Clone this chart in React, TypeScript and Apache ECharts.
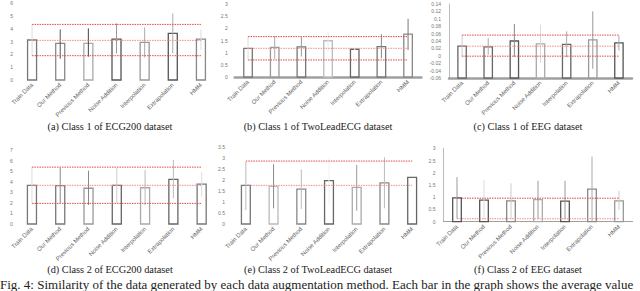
import React, { useEffect, useRef } from "react";
import * as echarts from "echarts";

const categories = ["Train Data", "Our Method", "Previous Method", "Noise Addition", "Interpolation", "Extrapolation", "HMM"];

// Panel (a) Class 1 of ECG200
const meansA = [3.13, 2.87, 2.87, 3.2, 2.94, 3.65, 3.2];
const lowA = [1.9, 1.67, 1.82, 2.08, 1.77, 2.08, 2.34];
const highA = [4.35, 3.96, 4.04, 4.43, 4.11, 5.2, 3.96];
const refA = [4.35, 3.1, 1.9];
const yRangeA = [0, 6, 1];

// Panel (b) Class 1 of TwoLeadECG
const meansB = [1.18, 1.22, 1.24, 1.49, 1.14, 1.25, 1.76];
const lowB = [0.7, 0.75, 0.84, 1.04, 1.1, 0.77, 1.11];
const highB = [1.66, 1.69, 1.65, 1.89, 1.2, 1.76, 2.39];
const refB = [1.66, 1.18, 0.7];
const yRangeB = [0, 3, 0.5];

// Panel (c) Class 1 of EEG
const meansC = [0.026, 0.024, 0.04, 0.032, 0.031, 0.043, 0.035];
const lowC = [-0.002, 0.003, -0.003, -0.019, -0.004, -0.035, 0.014];
const highC = [0.056, 0.048, 0.086, 0.084, 0.066, 0.12, 0.055];
const refC = [0.056, 0.026, -0.001];
const yRangeC = [-0.06, 0.14, 0.02];

// Panel (d) Class 2 of ECG200
const meansD = [3.66, 3.63, 3.38, 3.66, 3.43, 4.23, 3.78];
const lowD = [1.95, 1.96, 1.8, 2.0, 1.8, 2.43, 2.58];
const highD = [5.38, 5.33, 5.04, 5.27, 5.1, 6.05, 4.89];
const refD = [5.38, 3.66, 1.95];
const yRangeD = [0, 7, 1];

// Panel (e) Class 2 of TwoLeadECG
const meansE = [1.75, 1.7, 1.58, 1.96, 1.66, 1.86, 2.11];
const lowE = [0.63, 0.71, 0.68, 0.9, 0.6, 0.71, 2.11];
const highE = [2.82, 2.71, 2.47, 3.0, 2.67, 3.02, 2.11];
const refE = [2.85, 1.75];
const yRangeE = [0, 3.5, 0.5];

// Panel (f) Class 2 of EEG
const meansF = [0.97, 0.88, 0.85, 0.9, 0.84, 1.33, 0.85];
const lowF = [0.12, 0.1, 0.1, 0.12, 0.1, 0.0, 0.48];
const highF = [1.82, 1.71, 1.57, 1.67, 1.67, 2.66, 1.26];
const refF = [0.96, 0.12];
const yRangeF = [0, 3, 0.5];

const subCaptions = [
  "(a) Class 1 of ECG200 dataset",
  "(b) Class 1 of TwoLeadECG dataset",
  "(c) Class 1 of EEG dataset",
  "(d) Class 2 of ECG200 dataset",
  "(e) Class 2 of TwoLeadECG dataset",
  "(f) Class 2 of EEG dataset",
];
const figCaption =
  "Fig. 4: Similarity of the data generated by each data augmentation method. Each bar in the graph shows the average value";

// layout / style (not data)
const panelLayout = [
  { left: 18, top: 3.3, width: 197, height: 76.7, baseLine: 0, yLine: false, labelMargin: 5 },
  { left: 234.7, top: 4, width: 186.7, height: 73, baseLine: 2.5, yLine: false, labelMargin: 7 },
  { left: 449, top: 4, width: 183, height: 74, baseLine: 2.5, yLine: true, labelMargin: 8 },
  { left: 17.8, top: 150, width: 198, height: 74, baseLine: 0, yLine: false, labelMargin: 5 },
  { left: 232, top: 146.7, width: 194, height: 77.3, baseLine: 0, yLine: false, labelMargin: 7 },
  { left: 443.5, top: 148.3, width: 189, height: 73.4, baseLine: 1.2, yLine: true, labelMargin: 8 },
];
const barColors = [
  ["#777", "#888", "#aaa", "#555", "#999", "#555", "#888"],
  ["#777", "#999", "#777", "#bbb", "#666", "#777", "#888"],
  ["#666", "#666", "#555", "#aaa", "#666", "#999", "#555"],
  ["#777", "#777", "#999", "#666", "#aaa", "#666", "#777"],
  ["#777", "#bbb", "#888", "#666", "#aaa", "#888", "#666"],
  ["#555", "#555", "#888", "#aaa", "#555", "#888", "#999"],
];
const errColors = [
  ["#ddd", "#555", "#444", "#999", "#aaa", "#aaa", "#ddd"],
  ["#ddd", "#aaa", "#999", "#eee", "#fff", "#888", "#777"],
  ["#ccc", "#aaa", "#888", "#ddd", "#aaa", "#999", "#aaa"],
  ["#ddd", "#888", "#888", "#ccc", "#bbb", "#bbb", "#ddd"],
  ["#bbb", "#888", "#bbb", "#f2f2f2", "#999", "#bbb", "#fff"],
  ["#999", "#ddd", "#ccc", "#999", "#999", "#aaa", "#ccc"],
];
const captionPos = [
  [110, 126], [318, 126], [528, 126],
  [110, 269], [318, 269], [528, 269],
];

const panels = [
  { means: meansA, low: lowA, high: highA, ref: refA, yr: yRangeA },
  { means: meansB, low: lowB, high: highB, ref: refB, yr: yRangeB },
  { means: meansC, low: lowC, high: highC, ref: refC, yr: yRangeC },
  { means: meansD, low: lowD, high: highD, ref: refD, yr: yRangeD },
  { means: meansE, low: lowE, high: highE, ref: refE, yr: yRangeE },
  { means: meansF, low: lowF, high: highF, ref: refF, yr: yRangeF },
];

export default function App() {
  const ref = useRef<HTMLDivElement>(null);
  useEffect(() => {
    if (!ref.current) return;
    const chart = echarts.init(ref.current, undefined, { renderer: "svg" });
    const grid: any[] = [];
    const xAxis: any[] = [];
    const yAxis: any[] = [];
    const series: any[] = [];
    panels.forEach((p, k) => {
      const L = panelLayout[k];
      grid.push({ left: L.left, top: L.top, width: L.width, height: L.height, containLabel: false });
      xAxis.push({
        type: "category",
        gridIndex: k,
        data: categories,
        axisTick: { show: false },
        axisLine: { show: L.baseLine > 0, onZero: false, lineStyle: { color: "#a0a0a0", width: L.baseLine || 1 } },
        axisLabel: {
          interval: 0,
          rotate: 45,
          fontSize: 6,
          color: "#666",
          margin: 4,
          fontFamily: "Liberation Sans",
        },
      });
      yAxis.push({
        type: "value",
        gridIndex: k,
        min: p.yr[0],
        max: p.yr[1],
        interval: p.yr[2],
        splitLine: { show: false },
        axisTick: { show: false },
        axisLine: { show: L.yLine, lineStyle: { color: "#bbb", width: 1 } },
        axisLabel: {
          fontSize: 5,
          color: "#777",
          margin: L.labelMargin,
          fontFamily: "Liberation Sans",
        },
      });
      const yMin = p.yr[0];
      series.push({
        type: "custom",
        xAxisIndex: k,
        yAxisIndex: k,
        z: 2,
        data: p.means.map((v, i) => [i, v]),
        renderItem: (params: any, api: any) => {
          const i = api.value(0);
          const top = api.coord([i, api.value(1)]);
          const base = api.coord([i, yMin]);
          const bw = api.size([1, 0])[0] * 0.32;
          return {
            type: "rect",
            shape: { x: top[0] - bw / 2, y: top[1], width: bw, height: base[1] - top[1] },
            style: { fill: "#fff", stroke: barColors[k][params.dataIndex], lineWidth: 1.3 },
          };
        },
      });
      series.push({
        type: "custom",
        xAxisIndex: k,
        yAxisIndex: k,
        z: 3,
        data: p.low.map((v, i) => [i, v, p.high[i]]),
        renderItem: (params: any, api: any) => {
          const i = api.value(0);
          const a = api.coord([i, api.value(1)]);
          const b = api.coord([i, api.value(2)]);
          return {
            type: "line",
            shape: { x1: a[0], y1: a[1], x2: b[0], y2: b[1] },
            style: { stroke: errColors[k][params.dataIndex], lineWidth: 1 },
          };
        },
      });
      p.ref.forEach((rv, j) => {
        series.push({
          type: "line",
          xAxisIndex: k,
          yAxisIndex: k,
          z: 4,
          symbol: "none",
          silent: true,
          data: categories.map(() => rv),
          lineStyle: { color: j === 1 ? "#f08a8a" : "#e04848", width: 1, type: [1.5, 1] },
        });
      });
    });
    const graphic: any[] = subCaptions.map((t, k) => ({
      type: "text",
      x: captionPos[k][0],
      y: captionPos[k][1],
      style: {
        text: t,
        font: "10.3px 'Liberation Serif'",
        fill: "#222",
        align: "center",
        verticalAlign: "middle",
        textAlign: "center",
        textVerticalAlign: "middle",
      },
    }));
    graphic.push({
      type: "text",
      x: 0,
      y: 284,
      style: {
        text: figCaption,
        font: "13px 'Liberation Serif'",
        fill: "#222",
        align: "left",
        verticalAlign: "middle",
        textAlign: "left",
        textVerticalAlign: "middle",
      },
    });
    chart.setOption({
      animation: false,
      backgroundColor: "#fff",
      grid,
      xAxis,
      yAxis,
      series,
      graphic,
    });
    return () => chart.dispose();
  }, []);
  return (
    <div
      ref={ref}
      style={{ position: "absolute", left: 0, top: 0, width: 640, height: 291 }}
    />
  );
}
